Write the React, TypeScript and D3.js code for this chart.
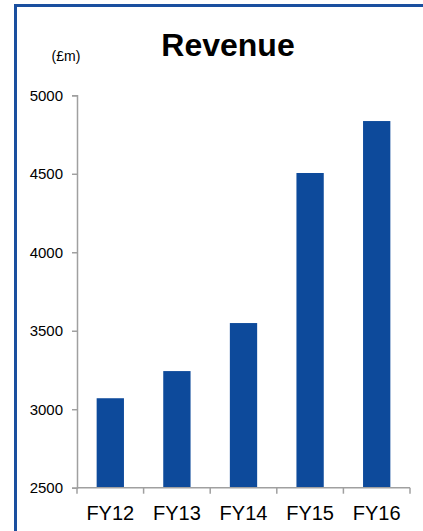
import { useEffect, useRef } from 'react';
import * as d3 from 'd3';

const categories = ['FY12', 'FY13', 'FY14', 'FY15', 'FY16'];
const revenue = [3070, 3243, 3549, 4505, 4836];
const yTicks = [2500, 3000, 3500, 4000, 4500, 5000];

const FONT = '"Liberation Sans", Arial, sans-serif';

const App = () => {
  const svgRef = useRef<SVGSVGElement>(null);

  useEffect(() => {
    const svg = d3.select(svgRef.current);
    svg.selectAll('*').remove();

    const width = 423;
    const height = 531;
    const left = 77;
    const right = 410;
    const top = 95.3;
    const bottom = 487.7;

    // frame lines (left + top)
    svg.append('path')
      .attr('d', `M15.5,531 L15.5,5.5 L423,5.5`)
      .attr('fill', 'none')
      .attr('stroke', '#1a4f9f')
      .attr('stroke-width', 3);

    svg.append('text')
      .attr('x', 228)
      .attr('y', 56)
      .attr('text-anchor', 'middle')
      .attr('font-family', FONT)
      .attr('font-weight', 'bold')
      .attr('font-size', 32)
      .attr('fill', '#000')
      .text('Revenue');

    svg.append('text')
      .attr('x', 66)
      .attr('y', 61)
      .attr('text-anchor', 'middle')
      .attr('font-family', FONT)
      .attr('font-size', 14)
      .attr('fill', '#000')
      .text('(£m)');

    const x = d3.scaleBand().domain(categories).range([left, right]).paddingInner(0).paddingOuter(0);
    const y = d3.scaleLinear().domain([2500, 5000]).range([bottom, top]);
    const barW = x.bandwidth() * 0.41;

    svg.append('g')
      .selectAll('rect')
      .data(categories)
      .enter()
      .append('rect')
      .attr('x', (d) => (x(d) as number) + x.bandwidth() / 2 - barW / 2)
      .attr('y', (d, i) => y(revenue[i]))
      .attr('width', barW)
      .attr('height', (d, i) => bottom - y(revenue[i]))
      .attr('fill', '#0d4a9b');

    const yAxis = svg.append('g')
      .attr('transform', `translate(${left},0)`)
      .call(d3.axisLeft(y).tickValues(yTicks).tickSize(5).tickPadding(9).tickFormat(d3.format('d')));
    yAxis.select('.domain').attr('stroke', '#a0a0a0').attr('stroke-width', 1.5);
    yAxis.selectAll('.tick line').attr('stroke', '#a0a0a0').attr('stroke-width', 1.5);
    yAxis.selectAll('.tick text')
      .attr('font-family', FONT)
      .attr('font-size', 15)
      .attr('fill', '#000');

    // x axis with ticks on band boundaries
    const xAxis = svg.append('g').attr('transform', `translate(0,${bottom})`);
    xAxis.append('line')
      .attr('x1', left).attr('x2', right)
      .attr('stroke', '#a0a0a0').attr('stroke-width', 1.5);
    const bounds = categories.map((c) => x(c) as number).concat([right]);
    xAxis.selectAll('line.tk')
      .data(bounds)
      .enter()
      .append('line')
      .attr('class', 'tk')
      .attr('x1', (d) => d).attr('x2', (d) => d)
      .attr('y1', 0).attr('y2', 6)
      .attr('stroke', '#a0a0a0').attr('stroke-width', 1.5);
    xAxis.selectAll('text')
      .data(categories)
      .enter()
      .append('text')
      .attr('x', (d) => (x(d) as number) + x.bandwidth() / 2)
      .attr('y', 32)
      .attr('text-anchor', 'middle')
      .attr('font-family', FONT)
      .attr('font-size', 20)
      .attr('fill', '#000')
      .text((d) => d);

    svg.attr('width', width).attr('height', height);
  }, []);

  return (
    <svg
      ref={svgRef}
      width={423}
      height={531}
      style={{ position: 'absolute', left: 0, top: 0, background: '#fff' }}
    />
  );
};

export default App;
